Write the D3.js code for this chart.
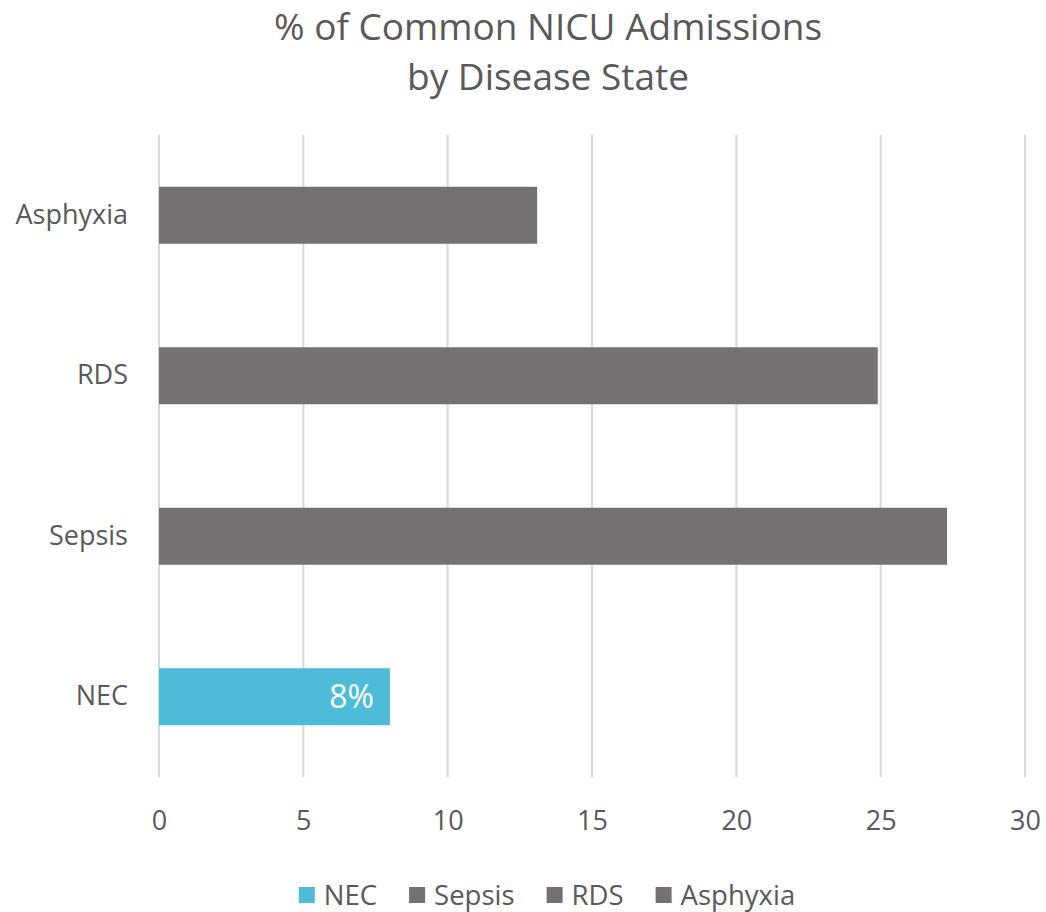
<!DOCTYPE html>
<html>
<head>
<meta charset="utf-8">
<script src="https://cdn.jsdelivr.net/npm/d3@7"></script>
<style>
  body { margin: 0; background: #fff; }
  text { font-family: "Open Sans", sans-serif; }
</style>
</head>
<body>
<div id="chart"></div>
<script>
// categories bottom-to-top as in the picture
const categories = ["NEC", "Sepsis", "RDS", "Asphyxia"]
const values = [8, 27.3, 24.9, 13.1]
const barColors = ["#4EBCD9", "#767171", "#767171", "#767171"]
const xTicks = [0, 5, 10, 15, 20, 25, 30]
const titleLines = ["% of Common NICU Admissions", "by Disease State"]
const dataLabels = ["8%", "", "", ""]

const width = 1046, height = 912
const margin = { top: 135, right: 21, bottom: 135, left: 159 }

const svg = d3.select("#chart").append("svg")
    .attr("width", width)
    .attr("height", height)

const x = d3.scaleLinear()
    .domain([0, 30])
    .range([margin.left, width - margin.right])

// top band is the last category
const y = d3.scaleBand()
    .domain(categories.slice().reverse())
    .range([margin.top, height - margin.bottom])
    .paddingInner(0.645)
    .paddingOuter(0.3225)

// title
svg.append("g").selectAll("text")
    .data(titleLines)
    .join("text")
    .attr("x", 548)
    .attr("y", (d, i) => 40 + i * 50)
    .attr("text-anchor", "middle")
    .attr("fill", "#595959")
    .attr("font-size", "37px")
    .text(d => d)

// gridlines
svg.append("g").selectAll("line")
    .data(xTicks)
    .join("line")
    .attr("x1", d => x(d))
    .attr("x2", d => x(d))
    .attr("y1", margin.top)
    .attr("y2", height - margin.bottom)
    .attr("stroke", "#D9D9D9")
    .attr("stroke-width", 2)

// bars
svg.append("g").selectAll("rect")
    .data(categories)
    .join("rect")
    .attr("x", x(0))
    .attr("y", d => y(d))
    .attr("width", (d, i) => x(values[i]) - x(0))
    .attr("height", y.bandwidth())
    .attr("fill", (d, i) => barColors[i])

// data label inside end
svg.append("g").selectAll("text")
    .data(categories)
    .join("text")
    .attr("x", (d, i) => x(values[i]) - 16)
    .attr("y", d => y(d) + y.bandwidth() / 2)
    .attr("dy", "0.36em")
    .attr("text-anchor", "end")
    .attr("fill", "#fff")
    .attr("font-size", "32px")
    .text((d, i) => dataLabels[i])

// x axis labels
const xAxis = svg.append("g")
    .attr("transform", `translate(0,${height - margin.bottom})`)
    .call(d3.axisBottom(x).tickValues(xTicks).tickSize(0).tickPadding(34))
xAxis.select(".domain").remove()
xAxis.selectAll("text")
    .attr("font-size", "27px")
    .attr("fill", "#595959")
    .attr("font-family", "Open Sans, sans-serif")

// y axis labels
const yAxis = svg.append("g")
    .attr("transform", `translate(${margin.left},0)`)
    .call(d3.axisLeft(y).tickSize(0).tickPadding(31))
yAxis.select(".domain").remove()
yAxis.selectAll("text")
    .attr("font-size", "27px")
    .attr("fill", "#595959")
    .attr("font-family", "Open Sans, sans-serif")

// legend, centred under the plot
const legend = svg.append("g").attr("transform", "translate(0,895)")
const items = legend.selectAll("g")
    .data(categories)
    .join("g")
items.append("rect")
    .attr("width", 16)
    .attr("height", 16)
    .attr("y", -8)
    .attr("fill", (d, i) => barColors[i])
items.append("text")
    .attr("x", 25)
    .attr("dy", "0.36em")
    .attr("font-size", "27.5px")
    .attr("fill", "#595959")
    .text(d => d)

let widths = []
items.selectAll("text").each(function () { widths.push(25 + this.getComputedTextLength()) })
const gap = 32
const total = d3.sum(widths) + gap * (widths.length - 1)
let cur = 547 - total / 2
items.attr("transform", (d, i) => {
    let t = `translate(${cur},0)`
    cur += widths[i] + gap
    return t
})
</script>
</body>
</html>
